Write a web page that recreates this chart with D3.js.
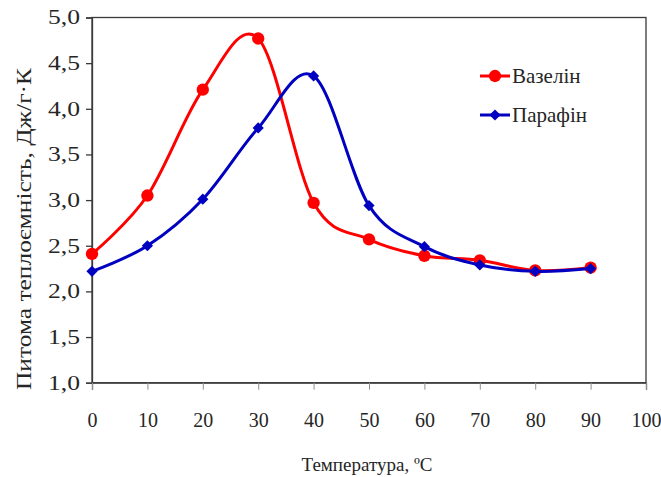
<!DOCTYPE html>
<html>
<head>
<meta charset="utf-8">
<script src="https://cdn.jsdelivr.net/npm/d3@7"></script>
<style>
  html, body { margin: 0; padding: 0; background: #fff; }
  svg { display: block; }
</style>
</head>
<body>
<svg id="chart" width="661" height="477"></svg>
<script>
// Temperature, °C
const temperatures = [0, 10, 20, 30, 40, 50, 60, 70, 80, 90];
// Specific heat capacity, J/(g·K)
const vaselineValues = [2.41, 3.05, 4.21, 4.77, 2.97, 2.57, 2.39, 2.34, 2.23, 2.26];
const paraffinValues = [2.22, 2.50, 3.01, 3.79, 4.36, 2.94, 2.49, 2.29, 2.22, 2.25];
const xTicks = [0, 10, 20, 30, 40, 50, 60, 70, 80, 90, 100];
const yTicks = [1.0, 1.5, 2.0, 2.5, 3.0, 3.5, 4.0, 4.5, 5.0];
const seriesNames = ["Вазелін", "Парафін"];

const FONT = "'Liberation Serif', 'Times New Roman', serif";
const TEXT_COLOR = "#262626";

const svg = d3.select("#chart");
const plot = { left: 92, top: 17.5, right: 646, bottom: 382.7 };

const x = d3.scaleLinear().domain([0, 100]).range([plot.left, plot.right]);
const y = d3.scaleLinear().domain([1, 5]).range([plot.bottom, plot.top]);

const fmt = v => d3.format(".1f")(v).replace(".", ",");

// Frame around the plot area
svg.append("rect")
  .attr("x", plot.left).attr("y", plot.top)
  .attr("width", plot.right - plot.left).attr("height", plot.bottom - plot.top)
  .attr("fill", "none").attr("stroke", "#3a3a3a").attr("stroke-width", 1.3);

// Y axis
const yAxis = svg.append("g")
  .attr("transform", `translate(${plot.left},0)`)
  .call(d3.axisLeft(y).tickValues(yTicks).tickFormat(fmt).tickSize(6).tickPadding(6));
yAxis.select(".domain").attr("stroke", "#3a3a3a").attr("stroke-width", 1.3);
yAxis.selectAll(".tick line").attr("stroke", "#3a3a3a").attr("stroke-width", 1.3);
yAxis.selectAll(".tick text")
  .attr("textLength", 32)
  .attr("lengthAdjust", "spacingAndGlyphs")
  .style("font-family", FONT).style("font-size", "20px").attr("fill", TEXT_COLOR);

// X axis
const xAxis = svg.append("g")
  .attr("transform", `translate(0,${plot.bottom})`)
  .call(d3.axisBottom(x).tickValues(xTicks).tickFormat(d3.format("d")).tickSize(7).tickPadding(23));
xAxis.select(".domain").attr("stroke", "#3a3a3a").attr("stroke-width", 1.3);
xAxis.selectAll(".tick line").attr("stroke", "#909090").attr("stroke-width", 1);
xAxis.selectAll(".tick text")
  .style("font-family", FONT).style("font-size", "20px").attr("fill", TEXT_COLOR);

// Axis titles
svg.append("text")
  .attr("x", 367).attr("y", 471)
  .attr("text-anchor", "middle")
  .style("font-family", FONT).style("font-size", "19px").attr("fill", TEXT_COLOR)
  .text("Температура, ºC");

svg.append("text")
  .attr("transform", `translate(31,229) rotate(-90)`)
  .attr("text-anchor", "middle")
  .attr("textLength", 322)
  .attr("lengthAdjust", "spacingAndGlyphs")
  .style("font-family", FONT).style("font-size", "21px").attr("fill", TEXT_COLOR)
  .text("Питома теплоємність, Дж/г·К");

const line = d3.line()
  .x(d => x(d[0]))
  .y(d => y(d[1]))
  .curve(d3.curveCardinal.tension(0));

const series = [
  { name: seriesNames[0], values: vaselineValues, color: "#ff0000", marker: "circle" },
  { name: seriesNames[1], values: paraffinValues, color: "#0000c0", marker: "diamond" }
];

const circleSym = d3.symbol().type(d3.symbolCircle).size(120);
const diamondSym = d3.symbol().type(d3.symbolDiamond2).size(80);

series.forEach(s => {
  const pts = temperatures.map((t, i) => [t, s.values[i]]);
  svg.append("path")
    .datum(pts)
    .attr("d", line)
    .attr("fill", "none")
    .attr("stroke", s.color)
    .attr("stroke-width", 3);
  svg.append("g").selectAll("path")
    .data(pts)
    .join("path")
    .attr("transform", d => `translate(${x(d[0])},${y(d[1])})`)
    .attr("d", s.marker === "circle" ? circleSym : diamondSym)
    .attr("fill", s.color);
});

// Legend
const legend = svg.append("g");
series.forEach((s, i) => {
  const ly = 76 + i * 39;
  legend.append("line")
    .attr("x1", 480).attr("x2", 510).attr("y1", ly).attr("y2", ly)
    .attr("stroke", s.color).attr("stroke-width", 3);
  legend.append("path")
    .attr("transform", `translate(495,${ly})`)
    .attr("d", s.marker === "circle" ? circleSym : diamondSym)
    .attr("fill", s.color);
  legend.append("text")
    .attr("x", 512).attr("y", ly + 7)
    .style("font-family", FONT).style("font-size", "21px").attr("fill", TEXT_COLOR)
    .text(s.name);
});
</script>
</body>
</html>
